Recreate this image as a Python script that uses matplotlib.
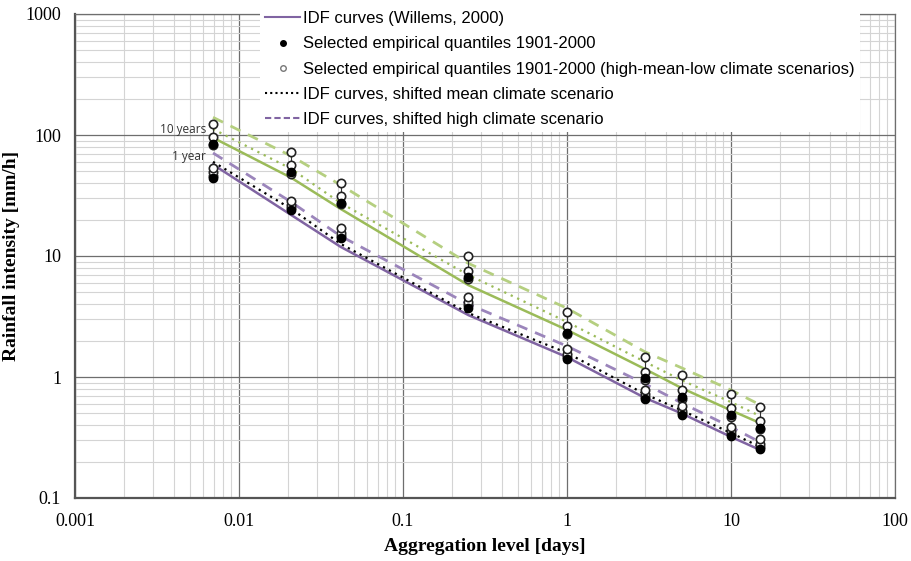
import numpy as np
import matplotlib
matplotlib.use("Agg")
import matplotlib.pyplot as plt
from matplotlib.ticker import LogLocator, FuncFormatter, NullFormatter
from matplotlib.lines import Line2D

# aggregation levels [days]: 10 min, 30 min, 1 h, 6 h, 1, 3, 5, 10, 15 days
durations = [10 / 1440, 30 / 1440, 1 / 24, 0.25, 1, 3, 5, 10, 15]

# empirical quantiles 1901-2000 (filled dots)
emp_10y = [84, 49.4, 27.4, 6.7, 2.31, 0.98, 0.68, 0.485, 0.38]
emp_1y = [44, 24.0, 14.1, 3.72, 1.41, 0.66, 0.485, 0.325, 0.254]

# climate scenario quantiles (open circles): high / mean / low
high_10y = [123, 72.4, 40.1, 10.0, 3.44, 1.46, 1.04, 0.72, 0.565]
mean_10y = [96, 56.5, 31.3, 7.5, 2.64, 1.10, 0.78, 0.55, 0.43]
low_10y = [82, 48.0, 26.8, 6.5, 2.25, 0.95, 0.66, 0.47, 0.37]
high_1y = [53, 28.5, 17.0, 4.58, 1.70, 0.78, 0.576, 0.386, 0.307]
mean_1y = [49, 26.5, 15.5, 4.17, 1.55, 0.72, 0.524, 0.355, 0.28]
low_1y = [46, 25.0, 14.6, 3.9, 1.46, 0.68, 0.50, 0.335, 0.265]

# IDF curves (Willems, 2000) and shifted versions
idf_10y = [95, 44.3, 24.5, 5.75, 2.45, 1.16, 0.81, 0.53, 0.417]
idf_mean_10y = [112, 52.5, 27.4, 6.97, 2.85, 1.33, 0.94, 0.62, 0.476]
idf_high_10y = [140, 67, 38.6, 8.7, 3.7, 1.61, 1.19, 0.78, 0.59]
idf_1y = [57, 21.8, 11.9, 3.25, 1.46, 0.67, 0.50, 0.32, 0.25]
idf_mean_1y = [60, 24.5, 12.6, 3.38, 1.58, 0.72, 0.53, 0.345, 0.265]
idf_high_1y = [71, 27.9, 14.6, 4.0, 1.80, 0.875, 0.61, 0.386, 0.29]

purple = "#8064a2"
green = "#9bbb59"

fig = plt.figure(figsize=(9.11, 5.61), dpi=100)
ax = fig.add_axes([75 / 911, 63 / 561, 820 / 911, 484 / 561])
ax.set_xscale("log")
ax.set_yscale("log")
ax.set_xlim(0.001, 100)
ax.set_ylim(0.1, 1000)

# grid
ax.xaxis.set_major_locator(LogLocator(base=10, numticks=10))
ax.yaxis.set_major_locator(LogLocator(base=10, numticks=10))
ax.xaxis.set_minor_locator(LogLocator(base=10, subs=np.arange(2, 10), numticks=20))
ax.yaxis.set_minor_locator(LogLocator(base=10, subs=np.arange(2, 10), numticks=20))
ax.xaxis.set_minor_formatter(NullFormatter())
ax.yaxis.set_minor_formatter(NullFormatter())
fmt = FuncFormatter(lambda v, p: "%g" % v)
ax.xaxis.set_major_formatter(fmt)
ax.yaxis.set_major_formatter(fmt)
ax.grid(True, which="major", color="#6e6e6e", lw=0.9)
ax.grid(True, which="minor", color="#d4d4d4", lw=0.8)
ax.set_axisbelow(True)
ax.tick_params(which="both", length=0)
ax.tick_params(axis="y", pad=10)
ax.tick_params(axis="x", pad=11)
for lab in ax.get_xticklabels() + ax.get_yticklabels():
    lab.set_fontfamily("Liberation Serif")
    lab.set_fontsize(13)
for s in ["left", "bottom"]:
    ax.spines[s].set_color("#555555")
    ax.spines[s].set_linewidth(1.6)
for s in ["top", "right"]:
    ax.spines[s].set_color("#6e6e6e")
    ax.spines[s].set_linewidth(0.9)

# IDF curves
ax.plot(durations, idf_10y, color=green, lw=1.8)
ax.plot(durations, idf_mean_10y, color=green, lw=1.6, ls=(0, (1, 2.2)))
ax.plot(durations, idf_high_10y, color="#b5cf80", lw=2.0, ls=(0, (4, 3)))
ax.plot(durations, idf_1y, color=purple, lw=1.8)
ax.plot(durations, idf_mean_1y, color="black", lw=1.6, ls=(0, (1, 2)))
ax.plot(durations, idf_high_1y, color="#9b85bb", lw=2.0, ls=(0, (4, 3)))

# scenario ranges
ax.vlines(durations, low_10y, high_10y, color="#333333", lw=0.8)
ax.vlines(durations, low_1y, high_1y, color="#333333", lw=0.8)

circ = dict(ls="none", marker="o", ms=6, mfc="white", mec="#222222", mew=1.2)
for series in (low_10y, mean_10y, high_10y, low_1y, mean_1y, high_1y):
    ax.plot(durations, series, **circ)
dot = dict(ls="none", marker="o", ms=6, mfc="black", mec="black")
ax.plot(durations, emp_10y, **dot)
ax.plot(durations, emp_1y, **dot)

ax.text(0.0063, 110, "10 years", ha="right", va="center", fontsize=8.5,
        family="Open Sans", color="#333333")
ax.text(0.0063, 67, "1 year", ha="right", va="center", fontsize=8.5,
        family="Open Sans", color="#333333")

handles = [
    Line2D([], [], color=purple, lw=1.5),
    Line2D([], [], ls="none", marker="o", ms=4, mfc="black", mec="black"),
    Line2D([], [], ls="none", marker="o", ms=4, mfc="white", mec="#777777"),
    Line2D([], [], color="black", lw=1.5, ls=(0, (1, 1.5))),
    Line2D([], [], color=purple, lw=1.5, ls=(0, (3, 1.5))),
]
labels = [
    "IDF curves (Willems, 2000)",
    "Selected empirical quantiles 1901-2000",
    "Selected empirical quantiles 1901-2000 (high-mean-low climate scenarios)",
    "IDF curves, shifted mean climate scenario",
    "IDF curves, shifted high climate scenario",
]
leg = ax.legend(handles, labels, loc="upper left",
                bbox_to_anchor=(260 / 911, 1 - 6 / 561), bbox_transform=fig.transFigure,
                prop={"family": "Liberation Sans", "size": 12}, frameon=True,
                fancybox=False, edgecolor="none", facecolor="white", framealpha=1,
                handlelength=2.1, handletextpad=0.2, labelspacing=0.62,
                borderpad=0.3, borderaxespad=0)

ax.set_xlabel("Aggregation level [days]", family="Liberation Serif",
              fontweight="bold", fontsize=14)
ax.xaxis.set_label_coords(0.5, -40 / 484)
ax.set_ylabel("Rainfall intensity [mm/h]", family="Liberation Serif",
              fontweight="bold", fontsize=14)
ax.yaxis.set_label_coords(-55 / 820, 0.5)

fig.savefig("out.png", dpi=100)
